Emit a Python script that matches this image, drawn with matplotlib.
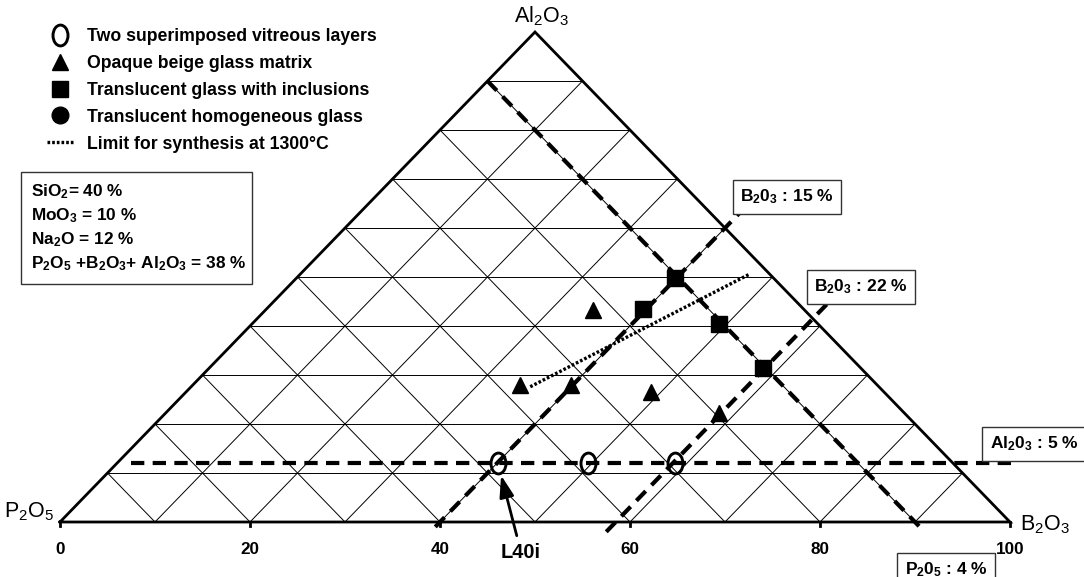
import matplotlib
matplotlib.use("Agg")
import matplotlib.pyplot as plt
import numpy as np
from matplotlib.lines import Line2D
from matplotlib.path import Path
from matplotlib.patches import Rectangle

plt.rcParams['font.family'] = ['Liberation Sans', 'DejaVu Sans']
plt.rcParams['mathtext.fontset'] = 'custom'
plt.rcParams['mathtext.rm'] = 'Liberation Sans'
plt.rcParams['mathtext.bf'] = 'Liberation Sans:bold'
plt.rcParams['mathtext.it'] = 'Liberation Sans:italic'
plt.rcParams['mathtext.default'] = 'bf'

# Data (ternary fractions: B = B2O3, A = Al2O3, P2O5 = 1 - B - A)
ticks = [0, 20, 40, 60, 80, 100]

tri_B = [0.344, 0.398, 0.345, 0.490, 0.583]
tri_A = [0.280, 0.280, 0.433, 0.265, 0.222]

sq_B = [0.396, 0.398, 0.492, 0.583]
sq_A = [0.435, 0.498, 0.404, 0.314]

circ_B = [0.401, 0.496, 0.587]
circ_A = [0.120, 0.120, 0.120]

limit_B = [0.357, 0.473]
limit_A = [0.276, 0.506]

# composition limit lines (start/end in B, A)
b15_B = [0.400, 0.400]
b15_A = [-0.010, 0.640]
b22_B = [0.585, 0.585]
b22_A = [-0.020, 0.450]
al5_B = [0.015, 0.945]
al5_A = [0.120, 0.120]
p4_B = [0.000, 0.920]
p4_A = [0.900, -0.020]

W, H = 1084, 577


def tern(b, a):
    b = np.asarray(b, float)
    a = np.asarray(a, float)
    return b + a / 2, a


def fxy(xp, yp):
    return xp / W, 1 - yp / H


fig = plt.figure(figsize=(W / 100, H / 100), dpi=100)
ax = fig.add_axes([0, 0, 1, 1])
ax.set_xlim(-60 / 950, 1024 / 950)
ax.set_ylim(-55 / 490, 522 / 490)
ax.axis('off')

# grid (10 % steps)
for i in range(1, 10):
    f = i / 10
    # constant Al2O3
    x, y = tern([0, 1 - f], [f, f])
    ax.plot(x, y, color='black', lw=0.7)
    # constant B2O3
    x, y = tern([f, f], [0, 1 - f])
    ax.plot(x, y, color='black', lw=0.7)
    # constant P2O5
    x, y = tern([0, 1 - f], [1 - f, 0])
    ax.plot(x, y, color='black', lw=0.7)

# triangle edges
x, y = tern([0, 1, 0, 0], [0, 0, 1, 0])
ax.plot(x, y, color='black', lw=2, solid_joinstyle='miter')

# base ticks and labels
for t in ticks:
    ax.plot([t / 100, t / 100], [0, -0.009], color='black', lw=2)
    ax.text(t / 100, -0.056, str(t), ha='center', va='center',
            fontsize=12.3, fontweight='bold')

# dashed composition lines
dash = dict(color='black', lw=3.0, dashes=(3.2, 2.0))
for bb, aa in [(b15_B, b15_A), (b22_B, b22_A), (al5_B, al5_A), (p4_B, p4_A)]:
    x, y = tern(bb, aa)
    ax.plot(x, y, **dash)

# limit for synthesis
x, y = tern(limit_B, limit_A)
ax.plot(x, y, color='black', lw=2.4, dashes=(0.8, 0.6))

# markers
circ = Path.unit_circle()
ellipse = Path(circ.vertices * np.array([0.72, 1.0]), circ.codes)

x, y = tern(tri_B, tri_A)
ax.plot(x, y, ls='none', marker='^', ms=11.5, color='black')
x, y = tern(sq_B, sq_A)
ax.plot(x, y, ls='none', marker='s', ms=11.5, color='black')
x, y = tern(circ_B, circ_A)
ax.plot(x, y, ls='none', marker=ellipse, ms=15, mfc='none', mec='black', mew=2.1)

# L40i arrow
cx, cy = tern(circ_B[0], circ_A[0])
ax.annotate('L40i', xy=(float(cx), float(cy)), xytext=fxy(521, 552),
            textcoords='figure fraction', ha='center', va='center',
            fontsize=14.5, fontweight='bold',
            arrowprops=dict(arrowstyle='-|>,head_length=0.9,head_width=0.3',
                            lw=2, color='black', shrinkA=3, shrinkB=9))

# corner labels
fig.text(*fxy(541, 16), r'Al$_\mathrm{2}$O$_\mathrm{3}$', ha='center', va='center', fontsize=15.5)
fig.text(*fxy(29, 512), r'P$_\mathrm{2}$O$_\mathrm{5}$', ha='center', va='center', fontsize=15.5)
fig.text(*fxy(1045, 525), r'B$_\mathrm{2}$O$_\mathrm{3}$', ha='center', va='center', fontsize=15.5)

# boxed line labels
box = dict(boxstyle='square,pad=0.42', fc='white', ec='#333333', lw=1)
lab = dict(ha='center', va='center', fontsize=12.5, fontweight='bold', bbox=box)
fig.text(*fxy(787, 197), r'B$_2$0$_3$ : 15 %', **lab)
fig.text(*fxy(861, 287), r'B$_2$0$_3$ : 22 %', **lab)
fig.text(*fxy(1034, 444), r'Al$_2$0$_3$ : 5 %', **lab)
fig.text(*fxy(946, 570), r'P$_2$0$_5$ : 4 %', **lab)

# composition box
fig.add_artist(Rectangle(fxy(21, 284), 231 / W, 112 / H, transform=fig.transFigure,
                         fill=False, ec='#333333', lw=1))
info = [r'SiO$_2$= 40 %', r'MoO$_3$ = 10 %', r'Na$_2$O = 12 %',
        r'P$_2$O$_5$ +B$_2$O$_3$+ Al$_2$O$_3$ = 38 %']
for yy, s in zip([192, 216, 240, 264], info):
    fig.text(*fxy(31, yy), s, ha='left', va='center', fontsize=12.4, fontweight='bold')

# legend
handles = [
    Line2D([], [], ls='none', marker=ellipse, ms=15, mfc='none', mec='black', mew=2.1),
    Line2D([], [], ls='none', marker='^', ms=11.5, color='black'),
    Line2D([], [], ls='none', marker='s', ms=11.5, color='black'),
    Line2D([], [], ls='none', marker='o', ms=12, color='black'),
    Line2D([], [], color='black', lw=2.4, dashes=(0.8, 0.6)),
]
labels = ['Two superimposed vitreous layers', 'Opaque beige glass matrix',
          'Translucent glass with inclusions', 'Translucent homogeneous glass',
          'Limit for synthesis at 1300\u00b0C']
fig.legend(handles, labels, loc='upper left', bbox_to_anchor=fxy(47, 28),
           frameon=False, borderpad=0, borderaxespad=0, handlelength=1.5,
           handletextpad=0.75, labelspacing=0.56, prop=dict(size=12.7, weight='bold'))

fig.savefig('out.png', dpi=100)
